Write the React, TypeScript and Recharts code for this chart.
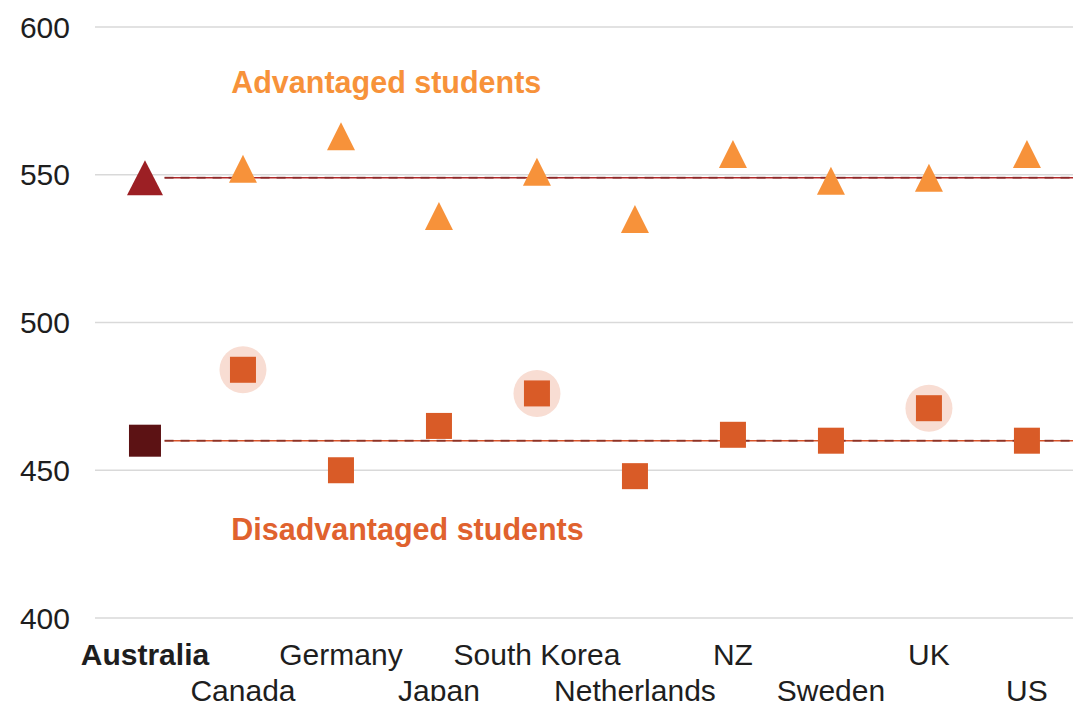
import React from 'react';
import {
  ScatterChart,
  Scatter,
  XAxis,
  YAxis,
  CartesianGrid,
  ReferenceLine,
  ReferenceDot,
} from 'recharts';

const categories = ['Australia', 'Canada', 'Germany', 'Japan', 'South Korea', 'Netherlands', 'NZ', 'Sweden', 'UK', 'US'];
const advantaged = [549, 552, 563, 536, 551, 535, 557, 548, 549, 557];
const disadvantaged = [460, 484, 450, 465, 476, 448, 462, 460, 471, 460];
const highlighted = ['Canada', 'South Korea', 'UK'];
const yTicks = [400, 450, 500, 550, 600];

const FONT = '"Liberation Sans", Arial, sans-serif';

const advData = categories.map((name, i) => ({ x: i, y: advantaged[i], name }));
const disData = categories.map((name, i) => ({ x: i, y: disadvantaged[i], name }));
const hiData = disData.filter((d) => highlighted.includes(d.name));

const Triangle = (props: any) => {
  const { cx, cy, payload } = props;
  const home = payload.name === 'Australia';
  const w = home ? 36 : 28;
  const h = home ? 35 : 28;
  return (
    <polygon
      points={`${cx},${cy - h / 2} ${cx + w / 2},${cy + h / 2} ${cx - w / 2},${cy + h / 2}`}
      fill={home ? '#9c1f24' : '#f7923a'}
    />
  );
};

const Square = (props: any) => {
  const { cx, cy, payload } = props;
  const home = payload.name === 'Australia';
  const s = home ? 32 : 26;
  return <rect x={cx - s / 2} y={cy - s / 2} width={s} height={s} fill={home ? '#5c1214' : '#d95b27'} />;
};

const Halo = (props: any) => <circle cx={props.cx} cy={props.cy} r={23.5} fill="#f8ddd3" />;

// odd countries drop to a second row so the labels don't collide
const CountryTick = (props: any) => {
  const { x, y, payload } = props;
  const i = payload.value as number;
  const name = categories[i];
  return (
    <text
      x={x}
      y={y + (i % 2 === 0 ? 47 : 83)}
      textAnchor="middle"
      fontFamily={FONT}
      fontSize={30}
      fontWeight={name === 'Australia' ? 'bold' : 'normal'}
      fill="#1e1e1e"
    >
      {name}
    </text>
  );
};

const groupLabel = (text: string, color: string) => (p: any) => (
  <text x={p.cx} y={p.cy} fontFamily={FONT} fontSize={30.5} fontWeight="bold" fill={color}>
    {text}
  </text>
);

export default function App() {
  return (
    <div style={{ position: 'absolute', left: 0, top: 0, background: '#fff' }}>
      <ScatterChart width={1073} height={701} margin={{ top: 27, right: 0, bottom: 0, left: 0 }}>
        <CartesianGrid vertical={false} stroke="#d9d9d9" strokeWidth={1.5} />
        <XAxis
          type="number"
          dataKey="x"
          domain={[-0.51, 9.47]}
          ticks={categories.map((_, i) => i)}
          axisLine={false}
          tickLine={false}
          tickSize={0}
          tickMargin={0}
          height={83}
          tick={<CountryTick />}
        />
        <YAxis
          type="number"
          dataKey="y"
          domain={[400, 600]}
          ticks={yTicks}
          axisLine={false}
          tickLine={false}
          tickSize={0}
          tickMargin={25}
          width={95}
          tick={{ fontSize: 30, fill: '#1e1e1e', fontFamily: FONT }}
        />
        <Scatter data={hiData} shape={<Halo />} isAnimationActive={false} />
        <Scatter data={advData} shape={<Triangle />} isAnimationActive={false} />
        <Scatter data={disData} shape={<Square />} isAnimationActive={false} />
        <ReferenceLine
          segment={[{ x: 0.2, y: advantaged[0] }, { x: 9.47, y: advantaged[0] }]}
          stroke="#b02a2a"
          strokeWidth={1.5}
          ifOverflow="visible"
        />
        <ReferenceLine
          segment={[{ x: 0.2, y: advantaged[0] }, { x: 9.47, y: advantaged[0] }]}
          stroke="#7e2a2a"
          strokeWidth={2}
          strokeDasharray="9 7"
          strokeOpacity={0.7}
          ifOverflow="visible"
        />
        <ReferenceLine
          segment={[{ x: 0.2, y: disadvantaged[0] }, { x: 9.47, y: disadvantaged[0] }]}
          stroke="#d9542a"
          strokeWidth={1.5}
          ifOverflow="visible"
        />
        <ReferenceLine
          segment={[{ x: 0.2, y: disadvantaged[0] }, { x: 9.47, y: disadvantaged[0] }]}
          stroke="#6e2424"
          strokeWidth={2}
          strokeDasharray="9 7"
          strokeOpacity={0.7}
          ifOverflow="visible"
        />
        <ReferenceDot x={0.88} y={577.6} r={0} ifOverflow="visible" shape={groupLabel('Advantaged students', '#f7923a')} />
        <ReferenceDot x={0.88} y={426.5} r={0} ifOverflow="visible" shape={groupLabel('Disadvantaged students', '#e0622e')} />
      </ScatterChart>
    </div>
  );
}
